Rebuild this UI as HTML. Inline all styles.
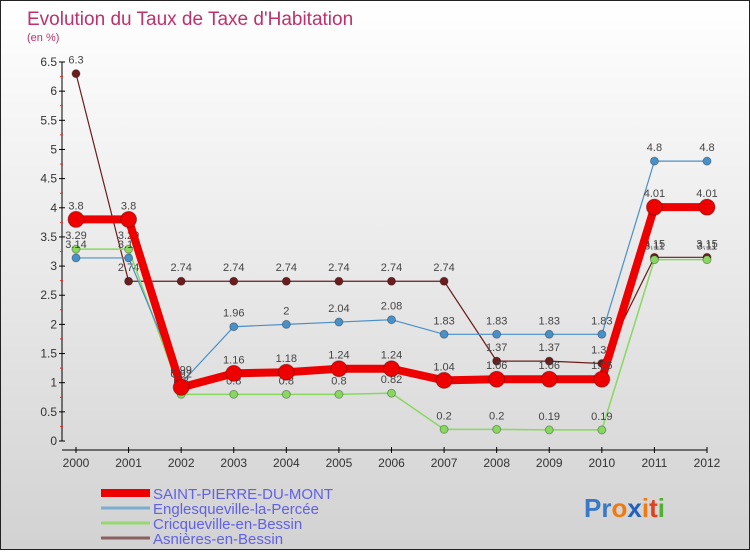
<!DOCTYPE html>
<html><head><meta charset="utf-8">
<style>
html,body{margin:0;padding:0;}
body{width:750px;height:550px;overflow:hidden;font-family:"Liberation Sans",sans-serif;}
#wrap{position:relative;width:748px;height:548px;border:1px solid #222;background:linear-gradient(#ffffff,#d2d2d2);}
</style></head>
<body>
<div id="wrap">
<svg id="chart" width="748" height="548" xmlns="http://www.w3.org/2000/svg">
<text x="26" y="24" font-size="19" fill="#c0306a">Evolution du Taux de Taxe d'Habitation</text>
<text x="26" y="40" font-size="11" fill="#c0306a">(en %)</text>
<g id="axes"></g>
<g id="series"></g>
<g id="legend"></g>
<text x="583" y="516" font-size="26" font-weight="bold"><tspan fill="#3a78c8">Pr</tspan><tspan fill="#f07a10">o</tspan><tspan fill="#2060c0">x</tspan><tspan fill="#f07a10">i</tspan><tspan fill="#e04020">t</tspan><tspan fill="#50b030">i</tspan></text>
</svg>
</div>
<script>
const years = [2000,2001,2002,2003,2004,2005,2006,2007,2008,2009,2010,2011,2012];
const yTicks = [0,0.5,1,1.5,2,2.5,3,3.5,4,4.5,5,5.5,6,6.5];
const seriesNames = ["SAINT-PIERRE-DU-MONT","Englesqueville-la-Percée","Cricqueville-en-Bessin","Asnières-en-Bessin"];
const spdm = [3.8,3.8,0.92,1.16,1.18,1.24,1.24,1.04,1.06,1.06,1.06,4.01,4.01];
const engl = [3.14,3.14,0.99,1.96,2,2.04,2.08,1.83,1.83,1.83,1.83,4.8,4.8];
const cricq = [3.29,3.29,0.8,0.8,0.8,0.8,0.82,0.2,0.2,0.19,0.19,3.11,3.11];
const asn = [6.3,2.74,2.74,2.74,2.74,2.74,2.74,2.74,1.37,1.37,1.33,3.15,3.15];

const NS="http://www.w3.org/2000/svg";
function xS(i){return 75+i*(706-75)/(years.length-1);}
function yS(v){return 440-v*(440-61)/6.5;}
function mk(tag,attrs,parent){const e=document.createElementNS(NS,tag);for(const k in attrs)e.setAttribute(k,attrs[k]);parent.appendChild(e);return e;}
const axes=document.getElementById('axes');
const ax=mk('line',{x1:61,y1:yS(0),x2:61,y2:yS(6.5),stroke:'#000','stroke-width':1},axes);


const bx=mk('line',{x1:61,y1:449,x2:706,y2:449,stroke:'#000','stroke-width':1},axes);


yTicks.forEach(v=>{
  mk('line',{x1:58,y1:yS(v),x2:64,y2:yS(v),stroke:'#000'},axes);
  if(v<6.5) mk('line',{x1:59,y1:yS(v+0.25),x2:62,y2:yS(v+0.25),stroke:'#e03030'},axes);
  const t=mk('text',{x:56,y:yS(v)+4,'font-size':12,'text-anchor':'end',fill:'#333'},axes);
  t.textContent=String(v);
  
  
});
years.forEach((y,i)=>{
  mk('line',{x1:xS(i),y1:446,x2:xS(i),y2:452,stroke:'#000'},axes);
  const t=mk('text',{x:xS(i),y:466,'font-size':12,'text-anchor':'middle',fill:'#333'},axes);
  t.textContent=String(y);
  
  
});
const ser=document.getElementById('series');
function draw(vals,color,w,r,name){
  const g=mk('g',{},ser);
  
  
  const pts=vals.map((v,i)=>xS(i)+','+yS(v)).join(' ');
  mk('polyline',{points:pts,fill:'none',stroke:color,'stroke-width':w},g);
  vals.forEach((v,i)=>{
    const c=mk('circle',{cx:xS(i),cy:yS(v),r:r,fill:color,stroke:'rgba(0,0,0,0.3)','stroke-width':1},g);
    
    
    const t=mk('text',{x:xS(i),y:yS(v)-10,'font-size':11,'text-anchor':'middle',fill:'#444'},g);
    t.textContent=String(v);
    
    
  });
}
draw(asn,'#6b1c1c',1.2,4,'series-asnieres');
draw(cricq,'#88d860',1.5,4,'series-cricqueville');
draw(engl,'#4a90c8',1.2,4,'series-englesqueville');
draw(spdm,'#ee0000',8,8,'series-saint-pierre');
const lg=document.getElementById('legend');
const colors=['#ee0000','#7aaed0','#98d870','#8a6060'];
const widths=[8,3,3,3];
seriesNames.forEach((n,i)=>{
  const y=492+i*15;
  mk('line',{x1:100,y1:y,x2:149,y2:y,stroke:colors[i],'stroke-width':widths[i]},lg);
  const t=mk('text',{x:152,y:y+6,'font-size':15,fill:'#6060e8'},lg);
  t.textContent=n;
  
  
});
</script>
</body></html>
